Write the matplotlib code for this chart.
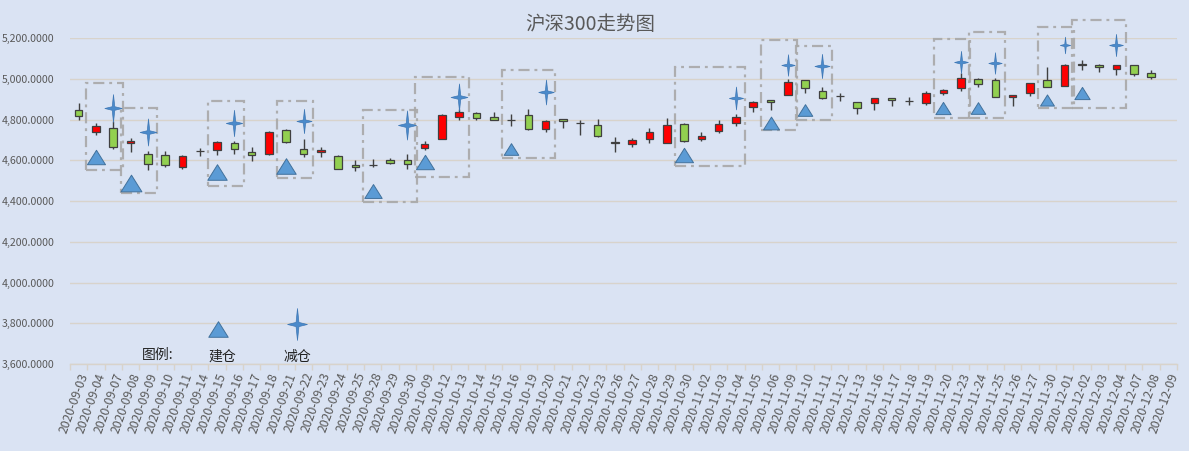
import numpy as np
import matplotlib
matplotlib.use("Agg")
import matplotlib.pyplot as plt
from matplotlib.path import Path
from matplotlib.patches import Rectangle

plt.rcParams["font.family"] = ["Noto Sans CJK SC", "DejaVu Sans"]

# trading days shown on the category axis
dates = [
    "2020-09-03", "2020-09-04", "2020-09-07", "2020-09-08", "2020-09-09",
    "2020-09-10", "2020-09-11", "2020-09-14", "2020-09-15", "2020-09-16",
    "2020-09-17", "2020-09-18", "2020-09-21", "2020-09-22", "2020-09-23",
    "2020-09-24", "2020-09-25", "2020-09-28", "2020-09-29", "2020-09-30",
    "2020-10-09", "2020-10-12", "2020-10-13", "2020-10-14", "2020-10-15",
    "2020-10-16", "2020-10-19", "2020-10-20", "2020-10-21", "2020-10-22",
    "2020-10-23", "2020-10-26", "2020-10-27", "2020-10-28", "2020-10-29",
    "2020-10-30", "2020-11-02", "2020-11-03", "2020-11-04", "2020-11-05",
    "2020-11-06", "2020-11-09", "2020-11-10", "2020-11-11", "2020-11-12",
    "2020-11-13", "2020-11-16", "2020-11-17", "2020-11-18", "2020-11-19",
    "2020-11-20", "2020-11-23", "2020-11-24", "2020-11-25", "2020-11-26",
    "2020-11-27", "2020-11-30", "2020-12-01", "2020-12-02", "2020-12-03",
    "2020-12-04", "2020-12-07", "2020-12-08", "2020-12-09",
]

nan = np.nan
opens = [
    4847, 4738, 4760, 4684, 4634, 4629, 4568, 4646, 4649, 4684,
    4639, 4632, 4750, 4654, 4641, 4623, 4578, 4578, 4603, 4603,
    4662, 4704, 4815, 4835, 4815, 4799, 4825, 4755, 4803, 4786,
    4775, 4690, 4681, 4707, 4687, 4780, 4705, 4744, 4784, 4864,
    4898, 4921, 4997, 4943, 4917, 4889, 4882, 4908, 4893, 4881,
    4930, 4956, 5000, 4995, 4911, 4930, 4995, 4966, 5072, 5068,
    5047, 5068, 5029, nan,
]
highs = [
    4881, 4782, 4792, 4709, 4645, 4645, 4629, 4662, 4697, 4694,
    4664, 4743, 4755, 4704, 4664, 4625, 4600, 4608, 4613, 4634,
    4694, 4826, 4852, 4836, 4837, 4830, 4855, 4797, 4805, 4798,
    4805, 4714, 4710, 4757, 4807, 4784, 4739, 4797, 4830, 4892,
    4898, 5000, 4997, 4962, 4931, 4889, 4908, 4908, 4911, 4941,
    4951, 5029, 5005, 5005, 4922, 4980, 5059, 5075, 5091, 5072,
    5068, 5068, 5042, nan,
]
lows = [
    4798, 4723, 4654, 4639, 4553, 4567, 4556, 4622, 4625, 4634,
    4597, 4629, 4686, 4617, 4619, 4556, 4546, 4567, 4582, 4558,
    4650, 4703, 4798, 4798, 4797, 4770, 4748, 4738, 4758, 4723,
    4716, 4639, 4668, 4687, 4685, 4692, 4695, 4734, 4769, 4838,
    4848, 4921, 4931, 4900, 4892, 4830, 4848, 4867, 4872, 4872,
    4922, 4941, 4961, 4911, 4867, 4917, 4961, 4966, 5042, 5034,
    5020, 5015, 5000, nan,
]
closes = [
    4818, 4771, 4667, 4696, 4583, 4577, 4623, 4648, 4689, 4654,
    4627, 4739, 4689, 4634, 4651, 4558, 4568, 4576, 4588, 4582,
    4679, 4825, 4840, 4808, 4800, 4797, 4753, 4795, 4793, 4784,
    4718, 4688, 4700, 4741, 4775, 4695, 4721, 4780, 4815, 4889,
    4889, 4984, 4956, 4907, 4915, 4857, 4908, 4897, 4891, 4932,
    4946, 5005, 4974, 4911, 4922, 4980, 4961, 5068, 5070, 5059,
    5068, 5024, 5010, nan,
]

# trades: open (建仓) and reduce (减仓) signals, with the box drawn round each
buy_dates = ["2020-09-04", "2020-09-08", "2020-09-15", "2020-09-21",
             "2020-09-28", "2020-10-09", "2020-10-16", "2020-10-30",
             "2020-11-06", "2020-11-10", "2020-11-20", "2020-11-24",
             "2020-11-30", "2020-12-02"]
sell_dates = ["2020-09-07", "2020-09-09", "2020-09-16", "2020-09-22",
              "2020-09-30", "2020-10-13", "2020-10-20", "2020-11-04",
              "2020-11-09", "2020-11-11", "2020-11-23", "2020-11-25",
              "2020-12-01", "2020-12-04"]
buy_values = [4616, 4489, 4543, 4572, 4449, 4592, 4655, 4626,
              4783, 4850, 4859, 4857, 4899, 4931]
sell_values = [4860, 4741, 4785, 4795, 4773, 4912, 4934, 4905,
               5068, 5063, 5084, 5079, 5166, 5166]
box_high = [4978, 4860, 4893, 4893, 4847, 5011, 5044, 5060,
            5191, 5162, 5195, 5230, 5254, 5292]
box_low = [4552, 4441, 4474, 4512, 4397, 4519, 4610, 4572,
           4749, 4801, 4806, 4806, 4860, 4860]

yticks = [3600, 3800, 4000, 4200, 4400, 4600, 4800, 5000, 5200]

# marker sizes shrink a little towards the right in the original
tri_size = [13, 15, 14, 14, 12.5, 13, 10.5, 13, 11.5, 10.5, 11, 10.5, 10, 11]
star_size = [20, 19.5, 19, 17.5, 21, 19.5, 18, 16.5, 15.5, 17.5, 16, 15.5, 12, 16]

BG = "#DAE3F3"
GRID = "#D8D3CB"
TEXT = "#595959"
UP = "#FF0000"
DOWN = "#92D050"
BLUE = "#5B9BD5"

TRIANGLE = Path([(-1, -0.8), (1, -0.8), (0, 0.8), (-1, -0.8)],
                [Path.MOVETO, Path.LINETO, Path.LINETO, Path.CLOSEPOLY])
STAR = Path([(0, 1), (0.09, 0.13), (0.62, 0), (0.09, -0.13), (0, -1),
             (-0.09, -0.13), (-0.62, 0), (-0.09, 0.13), (0, 1)],
            [Path.MOVETO] + [Path.LINETO] * 7 + [Path.CLOSEPOLY])

o = np.array(opens, dtype=float)
h = np.array(highs, dtype=float)
l = np.array(lows, dtype=float)
c = np.array(closes, dtype=float)
x = np.arange(len(dates))
ok = ~np.isnan(o)
up = ok & (c >= o)

fig = plt.figure(figsize=(11.89, 4.51), dpi=100, facecolor=BG)
ax = fig.add_axes([0.0589, 0.1929, 0.9310, 0.7222], facecolor=BG)

ax.vlines(x[ok], l[ok], h[ok], color="#404040", linewidth=1.0, zorder=2)
body_lo = np.minimum(o, c)
body_h = np.abs(c - o)
ax.bar(x[up], body_h[up], bottom=body_lo[up], width=0.44, color=UP,
       edgecolor="#404040", linewidth=0.9, zorder=3)
dn = ok & ~up
ax.bar(x[dn], body_h[dn], bottom=body_lo[dn], width=0.44, color=DOWN,
       edgecolor="#404040", linewidth=0.9, zorder=3)

# trade boxes and signal markers
for i in range(len(buy_dates)):
    bi = dates.index(buy_dates[i])
    si = dates.index(sell_dates[i])
    left = bi - 0.55
    right = si + 0.55
    ax.add_patch(Rectangle((left, box_low[i]), right - left,
                           box_high[i] - box_low[i], fill=False,
                           edgecolor="#A8A8A8", linewidth=1.6,
                           linestyle=(0, (5, 2.2, 1.3, 2.2)),
                           alpha=0.9, zorder=4, clip_on=False))
    ax.plot(bi, buy_values[i], marker=TRIANGLE, markersize=tri_size[i],
            color=BLUE, markeredgecolor="#41719C", markeredgewidth=0.7,
            linestyle="none", zorder=5, clip_on=False)
    ax.plot(si, sell_values[i], marker=STAR, markersize=star_size[i],
            color="#4A8ACB", markeredgecolor="#3F78B5", markeredgewidth=0.5,
            linestyle="none", zorder=5, clip_on=False)

# hand-made legend inside the plot
ax.plot(0.1337, 0.1075, marker=TRIANGLE, markersize=14, color=BLUE,
        markeredgecolor="#41719C", markeredgewidth=0.7,
        transform=ax.transAxes, clip_on=False)
ax.plot(0.205, 0.1228, marker=STAR, markersize=23, color="#4A8ACB",
        markeredgecolor="#3F78B5", markeredgewidth=0.5,
        transform=ax.transAxes, clip_on=False)
ax.text(0.0795, 0.028, "图例:", transform=ax.transAxes, ha="center",
        va="center", fontsize=10, color="#222222")
ax.text(0.1373, 0.024, "建仓", transform=ax.transAxes, ha="center",
        va="center", fontsize=10, color="#222222")
ax.text(0.205, 0.021, "减仓", transform=ax.transAxes, ha="center",
        va="center", fontsize=10, color="#222222")

ax.set_xlim(-0.5, len(dates) - 0.5)
ax.set_ylim(yticks[0], yticks[-1])
ax.set_yticks(yticks)
ax.set_yticklabels([f"{v:,.4f}" for v in yticks])
ax.set_xticks(x)
ax.set_xticklabels(dates, rotation=70, ha="right", va="top",
                   rotation_mode="anchor")
ax.set_xticks(np.arange(-0.5, len(dates)), minor=True)
ax.tick_params(axis="x", which="major", length=0, pad=5, labelsize=8.8,
               labelcolor=TEXT)
ax.tick_params(axis="x", which="minor", length=4, color=GRID, width=1)
ax.tick_params(axis="y", length=0, pad=11, labelsize=7.6, labelcolor=TEXT)
ax.grid(axis="y", color=GRID, linewidth=1.0, zorder=0)
ax.set_axisbelow(True)
for side in ("top", "right", "left"):
    ax.spines[side].set_visible(False)
ax.spines["bottom"].set_color(GRID)
ax.spines["bottom"].set_linewidth(1.0)

fig.text(0.496, 0.946, "沪深300走势图", ha="center", va="center",
         fontsize=14, color=TEXT)

fig.savefig("out.png", dpi=100, facecolor=BG)
